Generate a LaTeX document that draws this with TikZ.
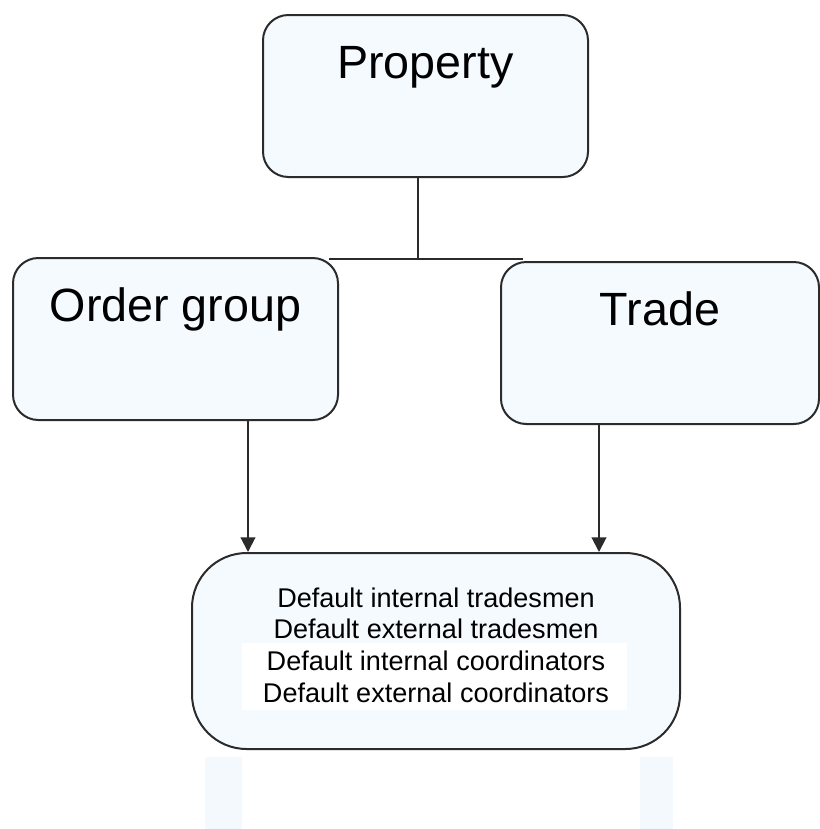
\documentclass[tikz,border=0pt]{standalone}
\usepackage{fontspec}
\setmainfont{Liberation Sans}
\usetikzlibrary{arrows.meta}

\begin{document}
\begin{tikzpicture}[x=0.75pt,y=0.75pt,yscale=-1,
  box/.style={draw={rgb, 255:red, 43; green, 43; blue, 43}, line width=1.5pt, fill={rgb, 255:red, 245; green, 250; blue, 255}, inner sep=0pt},
  headbox/.style={box, rounded corners=19pt, anchor=north west, font=\fontsize{35}{41}\selectfont, text height=47.25pt, text depth=74.25pt},
  link/.style={draw={rgb, 255:red, 43; green, 43; blue, 43}, line width=1.5pt},
  arrow/.style={link, -{Triangle[length=11pt,width=11pt]}}]
\useasboundingbox (0,0) rectangle (820,829);
\fill [white] (0,0) rectangle (820,829);

%Faint strips under the list
\fill [color={rgb, 255:red, 244; green, 249; blue, 254}] (205,757) rectangle (242,829);
\fill [color={rgb, 255:red, 244; green, 249; blue, 254}] (640,757) rectangle (673,829);

%Shape: Rounded Rect
\node [headbox, minimum width=243.75pt] (prop) at (262,14) {Property};
%Shape: Rounded Rect
\node [headbox, minimum width=243.75pt] (order) at (12,257) {Order group};
%Shape: Rounded Rect
\node [headbox, minimum width=238.5pt] (trade) at (500,261) {Trade};
%Shape: Rounded Rect
\node [box, rounded corners=41pt, minimum width=366pt, minimum height=147pt] (defaults) at (436,651) {};
\fill [white] (242,643) rectangle (627,710);

% Text Node
\node [anchor=base, align=center, font=\fontsize{20.3}{23.75}\selectfont] (deflist) at (436,702)
  {Default internal tradesmen\\Default external tradesmen\\Default internal coordinators\\Default external coordinators};

%Straight Lines
\coordinate (split) at (418,259);
\draw [link] (prop.south -| split) -- (split);
\draw [link] ([xshift=-7.5pt]split -| order.north east) -- ([xshift=17.25pt]split -| trade.north west);

%Arrows
\coordinate (ogout) at ([xshift=54.375pt]order.south);
\coordinate (trout) at ([xshift=-45.75pt]trade.south);
\draw [arrow] (ogout) -- (ogout |- defaults.north);
\draw [arrow] (trout) -- (trout |- defaults.north);

\end{tikzpicture}
\end{document}
